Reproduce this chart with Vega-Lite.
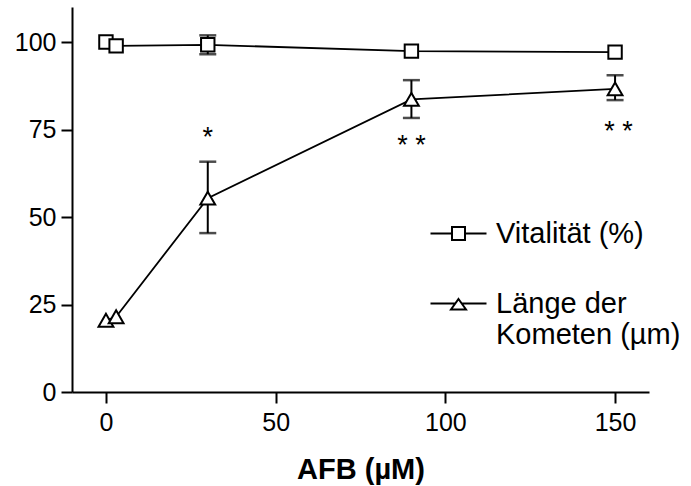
{
  "$schema": "https://vega.github.io/schema/vega-lite/v6.json",
  "width": 577,
  "height": 385,
  "autosize": {"type": "none"},
  "padding": {"left": 72, "top": 7, "right": 42, "bottom": 94},
  "background": "white",
  "config": {
    "view": {"stroke": null},
    "font": "Liberation Sans",
    "axis": {
      "grid": false,
      "domainColor": "black",
      "tickColor": "black",
      "labelColor": "black",
      "titleColor": "black",
      "domainWidth": 2,
      "tickWidth": 2,
      "tickSize": 11,
      "labelFontSize": 25,
      "labelFont": "Liberation Sans",
      "titleFont": "Liberation Sans"
    }
  },
  "datasets": {
    "points": [
      {"series": "Vitalität (%)", "x": 0, "v": 100},
      {"series": "Vitalität (%)", "x": 3, "v": 98.9},
      {"series": "Vitalität (%)", "x": 30, "v": 99.2, "lo": 96.5, "hi": 101.9},
      {"series": "Vitalität (%)", "x": 90, "v": 97.4},
      {"series": "Vitalität (%)", "x": 150, "v": 97.1},
      {"series": "Länge der Kometen (µm)", "x": 0, "v": 20.5},
      {"series": "Länge der Kometen (µm)", "x": 3, "v": 21.5},
      {"series": "Länge der Kometen (µm)", "x": 30, "v": 55.4, "lo": 45.4, "hi": 65.8},
      {"series": "Länge der Kometen (µm)", "x": 90, "v": 83.6, "lo": 78.3, "hi": 89.1},
      {"series": "Länge der Kometen (µm)", "x": 150, "v": 86.6, "lo": 83.4, "hi": 90.5}
    ],
    "stars": [
      {"x": 30, "v": 70.3, "t": "*"},
      {"x": 90, "v": 68.0, "t": "* *"},
      {"x": 151, "v": 72.0, "t": "* *"}
    ]
  },
  "encoding": {
    "x": {
      "field": "x",
      "type": "quantitative",
      "scale": {"domain": [-10, 160], "nice": false, "zero": false},
      "axis": {
        "values": [0, 50, 100, 150],
        "title": "AFB (µM)",
        "titleFontSize": 29,
        "titleFontWeight": "bold",
        "titlePadding": 20,
        "labelPadding": 7
      }
    },
    "y": {
      "field": "v",
      "type": "quantitative",
      "scale": {"domain": [0, 110], "nice": false},
      "axis": {"values": [0, 25, 50, 75, 100], "title": null, "labelPadding": 5}
    }
  },
  "layer": [
    {
      "data": {"name": "points"},
      "mark": {"type": "line", "color": "black", "strokeWidth": 1.8},
      "encoding": {
        "detail": {"field": "series"}
      }
    },
    {
      "data": {"name": "points"},
      "transform": [{"filter": "isValid(datum.lo)"}],
      "mark": {"type": "rule", "color": "black", "strokeWidth": 2},
      "encoding": {
        "y": {"field": "lo", "type": "quantitative", "scale": {"domain": [0, 110], "nice": false}, "axis": {"values": [0, 25, 50, 75, 100], "title": null, "labelPadding": 5}},
        "y2": {"field": "hi"}
      }
    },
    {
      "data": {"name": "points"},
      "transform": [{"filter": "isValid(datum.lo)"}],
      "mark": {"type": "tick", "orient": "horizontal", "size": 17, "thickness": 2.5, "color": "black"},
      "encoding": {
        "y": {"field": "lo", "type": "quantitative", "scale": {"domain": [0, 110], "nice": false}, "axis": {"values": [0, 25, 50, 75, 100], "title": null, "labelPadding": 5}}
      }
    },
    {
      "data": {"name": "points"},
      "transform": [{"filter": "isValid(datum.hi)"}],
      "mark": {"type": "tick", "orient": "horizontal", "size": 17, "thickness": 2.5, "color": "black"},
      "encoding": {
        "y": {"field": "hi", "type": "quantitative", "scale": {"domain": [0, 110], "nice": false}, "axis": {"values": [0, 25, 50, 75, 100], "title": null, "labelPadding": 5}}
      }
    },
    {
      "data": {"name": "points"},
      "transform": [{"filter": "datum.series == 'Vitalität (%)'"}],
      "mark": {"type": "point", "shape": "square", "filled": true, "fill": "white", "stroke": "black", "strokeWidth": 2, "size": 180, "opacity": 1}
    },
    {
      "data": {"name": "points"},
      "transform": [{"filter": "datum.series == 'Länge der Kometen (µm)'"}],
      "mark": {"type": "point", "shape": "triangle-up", "filled": true, "fill": "white", "stroke": "black", "strokeWidth": 2, "size": 220, "opacity": 1}
    },
    {
      "data": {"name": "points"},
      "transform": [{"filter": "datum.x < -100"}],
      "mark": {"type": "point", "filled": false, "stroke": "black", "fill": "white", "strokeWidth": 2, "size": 400, "opacity": 1},
      "encoding": {
        "shape": {
          "field": "series",
          "type": "nominal",
          "scale": {
            "domain": ["Vitalität (%)", "Länge der Kometen (µm)"],
            "range": ["M-2.8,0H-0.65M0.65,0H2.8M-0.65,-0.65H0.65V0.65H-0.65Z", "M-2.8,0H-0.32M0.32,0H2.8M0,-0.45L0.75,0.6L-0.75,0.6Z"]
          },
          "legend": {
            "orient": "none",
            "legendX": 372,
            "legendY": 212,
            "title": null,
            "labelFontSize": 29,
            "labelFont": "Liberation Sans",
            "labelColor": "black",
            "labelLimit": 400,
            "labelOffset": 23,
            "rowPadding": 40,
            "symbolSize": 400,
            "symbolStrokeWidth": 2,
            "labelExpr": "datum.label == 'Länge der Kometen (µm)' ? ['Länge der', 'Kometen (µm)'] : datum.label"
          }
        }
      }
    },
    {
      "data": {"name": "stars"},
      "mark": {"type": "text", "fontSize": 27, "color": "black", "baseline": "alphabetic", "align": "center", "font": "Liberation Sans"},
      "encoding": {
        "text": {"field": "t"}
      }
    }
  ]
}
